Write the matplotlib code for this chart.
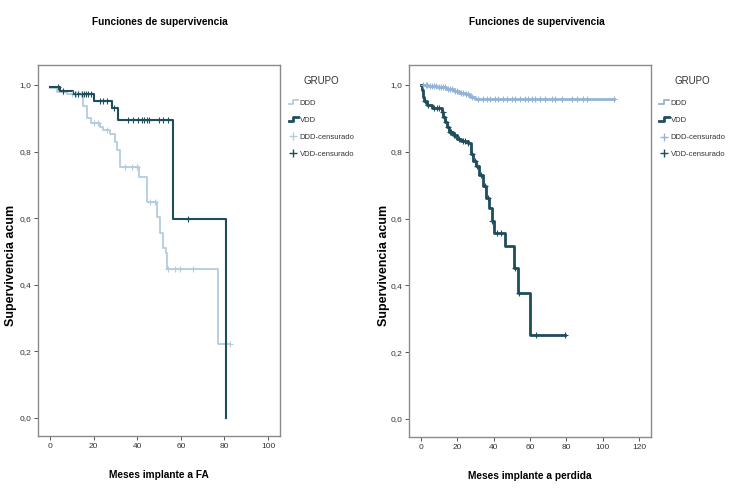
import numpy as np
import matplotlib
matplotlib.use("Agg")
import matplotlib.pyplot as plt
from matplotlib.lines import Line2D
from matplotlib.legend_handler import HandlerBase
from matplotlib import font_manager

# ---------------- data ----------------
# Left panel: Meses implante a FA
L_ddd_t = [0, 3, 8, 15.3, 17.1, 19, 23, 24.5, 27.5, 29.8, 30.8, 32.1, 41, 44.3, 49, 50.5, 52, 53, 53.8, 77.2]
L_ddd_s = [0.99, 0.98, 0.972, 0.937, 0.90, 0.885, 0.875, 0.865, 0.853, 0.83, 0.805, 0.753, 0.725, 0.65, 0.605, 0.555, 0.51, 0.495, 0.447, 0.222]
L_ddd_end = 82.6
L_ddd_cens = [6, 10, 12, 13, 14, 20, 22, 26, 34.4, 37.4, 39.7, 45.9, 48.2, 54.3, 57.3, 59.6, 65.6, 82.6]

L_vdd_t = [0, 4.6, 10.6, 20.3, 28.3, 31.3, 56.6, 80.7]
L_vdd_s = [0.993, 0.982, 0.972, 0.953, 0.930, 0.895, 0.598, 0.0]
L_vdd_end = 80.7
L_vdd_cens = [3.8, 6, 11.5, 13, 14.5, 15.5, 16.5, 17.5, 19, 23, 24.5, 26, 29.4,
              35.9, 38.2, 40.5, 42.0, 43.1, 44.3, 45.5, 50.2, 52.0, 54.3, 63.5]

# Right panel: Meses implante a perdida
R_ddd_t = [0, 4, 9, 14, 18, 21, 24, 27, 29.8]
R_ddd_s = [1.0, 0.997, 0.993, 0.988, 0.982, 0.977, 0.972, 0.965, 0.957]
R_ddd_end = 106
R_ddd_cens = [1.3, 2.5, 3.5, 5, 6, 7, 8, 10, 11, 12, 13, 15, 16, 17, 19, 20, 22, 23, 25, 26, 28,
              31.6, 34.3, 36.2, 38.0, 40.8, 42.6, 45.4, 47.2, 49.9, 51.8, 54.5, 57.3, 59.1,
              61.0, 62.8, 65.6, 68.3, 72.0, 73.8, 77.5, 83.0, 85.8, 89.4, 91.3, 106]

R_vdd_t = [0, 0.3, 1.0, 1.8, 3.5, 6.0, 11.4, 12.3, 13.2, 14.5, 15.6, 17.4, 20.0, 22.0, 25.7,
           27.5, 28.8, 30.3, 32.1, 33.9, 35.8, 37.2, 38.9, 40.4, 46.3, 51.2, 53.6, 60.1]
R_vdd_s = [1.0, 0.985, 0.965, 0.952, 0.940, 0.932, 0.920, 0.905, 0.890, 0.875, 0.860, 0.850,
           0.838, 0.833, 0.825, 0.792, 0.772, 0.757, 0.732, 0.697, 0.662, 0.632, 0.592, 0.557,
           0.518, 0.453, 0.376, 0.250]
R_vdd_end = 79.3
R_vdd_cens = [2, 4, 7, 9, 10, 12, 12.8, 13.8, 14.8, 16, 16.8, 18, 19, 21, 23, 24, 26, 28, 29.5,
              31, 33, 35, 37, 39, 42, 44, 52, 54, 63.4, 79.3]

y_ticks = [0.0, 0.2, 0.4, 0.6, 0.8, 1.0]
y_ticklabels = ["0,0", "0,2", "0,4", "0,6", "0,8", "1,0"]
L_xticks = [0, 20, 40, 60, 80, 100]
R_xticks = [0, 20, 40, 60, 80, 100, 120]
legend_labels = ["DDD", "VDD", "DDD-censurado", "VDD-censurado"]

# ---------------- style ----------------
_names = {f.name for f in font_manager.fontManager.ttflist}
NARROW = ["Liberation Sans Narrow", "Liberation Sans"] if "Liberation Sans Narrow" in _names else ["Liberation Sans", "DejaVu Sans"]
WIDE = ["Liberation Sans", "DejaVu Sans"]
FRAME = "#8a8a8a"
L_LIGHT = "#b3cce0"
R_LIGHT = "#93b4d6"
DARK = "#1e4d5c"


class StepHandler(HandlerBase):
    def __init__(self, color, lw):
        super().__init__()
        self.color = color
        self.lw = lw

    def create_artists(self, legend, orig_handle, xdescent, ydescent, width, height, fontsize, trans):
        x0 = -xdescent
        w = width
        xs = [x0, x0 + w * 0.5, x0 + w * 0.5, x0 + w]
        ys = [height * 0.2, height * 0.2, height * 1.0, height * 1.0]
        ln = Line2D(xs, ys, color=self.color, lw=self.lw, transform=trans)
        return [ln]


def step_value(t, s, x):
    i = np.searchsorted(np.asarray(t), x, side="right") - 1
    return np.asarray(s)[i]


def draw_panel(ax, ddd, vdd, light, xlim, xticks, xlabel, lw_light, lw_dark, ylab_x):
    for (t, s, end, cens), col, lw in ((ddd, light, lw_light), (vdd, DARK, lw_dark)):
        tt = list(t) + [end]
        ss = list(s) + [s[-1]]
        ax.step(tt, ss, where="post", color=col, lw=lw, zorder=3)
        cs = step_value(t, s, np.asarray(cens))
        ax.plot(cens, cs, linestyle="none", marker="+", markersize=4.5, mew=0.8, color=col, zorder=4)
    ax.set_xlim(*xlim)
    ax.set_ylim(-0.054, 1.06)
    ax.set_xticks(xticks)
    ax.set_xticklabels([str(v) for v in xticks], family=NARROW, fontsize=6, color="#333333")
    ax.set_yticks(y_ticks)
    ax.set_yticklabels(y_ticklabels, family=NARROW, fontsize=6, color="#333333")
    ax.tick_params(length=3, width=0.7, color="#555555", pad=2)
    for sp in ax.spines.values():
        sp.set_color(FRAME)
        sp.set_linewidth(1.0)
    ax.set_xlabel(xlabel, family=NARROW, fontweight="bold", fontsize=7.3)
    ax.xaxis.set_label_coords(0.5, -0.092)
    ax.set_ylabel("Supervivencia acum", family=WIDE, fontweight="bold", fontsize=9)
    ax.yaxis.set_label_coords(ylab_x, 0.46)


fig = plt.figure(figsize=(7.5, 5.0), dpi=100)
fig.patch.set_facecolor("white")

axL = fig.add_axes([0.0507, 0.128, 0.3227, 0.742])
axR = fig.add_axes([0.5453, 0.126, 0.3227, 0.744])

draw_panel(axL, (L_ddd_t, L_ddd_s, L_ddd_end, L_ddd_cens), (L_vdd_t, L_vdd_s, L_vdd_end, L_vdd_cens),
           L_LIGHT, (-5.5, 105.5), L_xticks, "Meses implante a FA", 1.3, 1.5, -0.085)
draw_panel(axR, (R_ddd_t, R_ddd_s, R_ddd_end, R_ddd_cens), (R_vdd_t, R_vdd_s, R_vdd_end, R_vdd_cens),
           R_LIGHT, (-6.6, 126.6), R_xticks, "Meses implante a perdida", 2.0, 2.0, -0.08)

fig.text(160 / 750, 1 - 22 / 500, "Funciones de supervivencia", ha="center", va="center",
         family=NARROW, fontweight="bold", fontsize=7.3)
fig.text(537 / 750, 1 - 22 / 500, "Funciones de supervivencia", ha="center", va="center",
         family=NARROW, fontweight="bold", fontsize=7.3)

for ax, light in ((axL, L_LIGHT), (axR, R_LIGHT)):
    h_ddd = Line2D([], [], color=light)
    h_vdd = Line2D([], [], color=DARK)
    h_dc = Line2D([], [], linestyle="none", marker="+", color=light, markersize=6)
    h_vc = Line2D([], [], linestyle="none", marker="+", color=DARK, markersize=6)
    leg = ax.legend([h_ddd, h_vdd, h_dc, h_vc], legend_labels, title="GRUPO",
                    loc="upper left", bbox_to_anchor=(1.035, 0.97), frameon=False,
                    handler_map={h_ddd: StepHandler(light, 1.3), h_vdd: StepHandler(DARK, 2.0)},
                    prop={"family": NARROW, "size": 5.5}, handlelength=1.3, handletextpad=0.15,
                    labelspacing=1.25, borderaxespad=0.0, borderpad=0.0)
    leg.get_title().set_fontfamily(NARROW)
    leg.get_title().set_fontsize(7)
    leg.get_title().set_color("#333333")
    leg._legend_box.align = "center"
    leg._legend_box.sep = 10
    for txt in leg.get_texts():
        txt.set_color("#333333")

fig.savefig("out.png", dpi=100, facecolor="white")
